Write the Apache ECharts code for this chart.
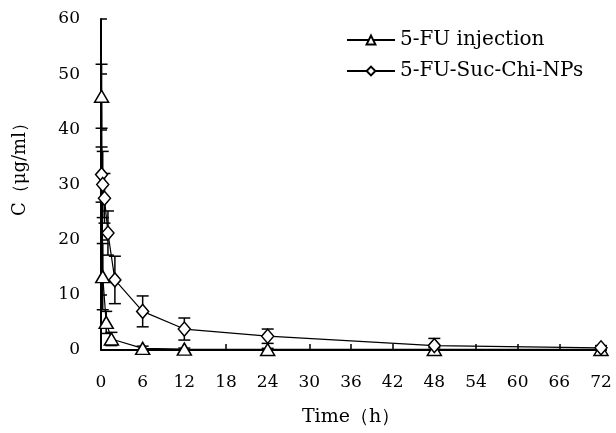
<!DOCTYPE html>
<html>
<head>
<meta charset="utf-8">
<script src="https://cdn.jsdelivr.net/npm/echarts@6/dist/echarts.min.js"></script>
<style>
  html, body { margin: 0; padding: 0; background: #fff; }
  #chart { width: 616px; height: 433px; }
</style>
</head>
<body>
<div id="chart"></div>
<script>
// time points (h) and mean concentration / SD
const injTime = [0.083, 0.25, 0.75, 1.5, 6, 12, 24, 48, 72];
const injMean = [46, 13.3, 5.0, 2.0, 0.3, 0.15, 0.1, 0.1, 0.1];
const injSd = [5.8, 6, 2, 1.2, 0.4, 0.2, 0.2, 0.3, 0.2];

const npTime = [0.083, 0.25, 0.5, 1, 2, 6, 12, 24, 48, 72];
const npMean = [31.8, 30.0, 27.5, 21.2, 12.7, 7.0, 3.8, 2.5, 0.8, 0.4];
const npSd = [5, 6, 4.5, 4, 4.3, 2.8, 2.0, 1.3, 1.3, 0.4];

const xTicks = [0, 6, 12, 18, 24, 30, 36, 42, 48, 54, 60, 66, 72];
const yTicks = [0, 10, 20, 30, 40, 50, 60];

const font = "DejaVu Serif";
const chart = echarts.init(document.getElementById("chart"));

function pairs(t, v) {
  return t.map((x, i) => [x, v[i]]);
}

function errRows(t, v, e) {
  return t.map((x, i) => [x, v[i], e[i]]);
}

function errorBars(params, api) {
  const x = api.value(0);
  const m = api.value(1);
  const e = api.value(2);
  const top = api.coord([x, m + e]);
  const bot = api.coord([x, Math.max(0, m - e)]);
  const w = 6;
  const st = { stroke: "#000", lineWidth: 1.5 };
  return {
    type: "group",
    children: [
      { type: "line", shape: { x1: top[0], y1: top[1], x2: bot[0], y2: bot[1] }, style: st },
      { type: "line", shape: { x1: top[0] - w, y1: top[1], x2: top[0] + w, y2: top[1] }, style: st },
      { type: "line", shape: { x1: bot[0] - w, y1: bot[1], x2: bot[0] + w, y2: bot[1] }, style: st },
    ],
  };
}

chart.setOption({
  animation: false,
  textStyle: { fontFamily: font, color: "#000" },
  grid: { left: 101, right: 15, top: 19, bottom: 83 },
  legend: {
    orient: "vertical",
    left: 341,
    top: 25,
    itemWidth: 48,
    itemHeight: 11,
    itemGap: 11,
    textStyle: { fontFamily: font, fontSize: 20, color: "#000" },
    data: ["5-FU injection", "5-FU-Suc-Chi-NPs"],
  },
  xAxis: {
    type: "value",
    min: 0,
    max: 72,
    interval: 6,
    name: "Time（h）",
    nameLocation: "middle",
    nameGap: 58,
    nameTextStyle: { fontFamily: font, fontSize: 19, color: "#000" },
    axisLine: { lineStyle: { color: "#000", width: 2 } },
    axisTick: { inside: true, length: 6, lineStyle: { color: "#000", width: 1.5 } },
    axisLabel: { margin: 24, fontSize: 17, color: "#000", fontFamily: font,
      formatter: (v) => (xTicks.includes(v) ? String(v) : "") },
    splitLine: { show: false },
  },
  yAxis: {
    type: "value",
    min: 0,
    max: 60,
    interval: 10,
    axisLine: { show: true, lineStyle: { color: "#000", width: 2 } },
    axisTick: { show: true, inside: true, length: 6, lineStyle: { color: "#000", width: 1.5 } },
    axisLabel: { margin: 21, fontSize: 17, color: "#000", fontFamily: font,
      formatter: (v) => (yTicks.includes(v) ? String(v) : "") },
    splitLine: { show: false },
  },
  graphic: [{
    type: "text",
    x: 20,
    y: 165,
    rotation: Math.PI / 2,
    style: { text: "C（μg/ml）", font: `18px "${font}"`, fill: "#000", align: "center", verticalAlign: "middle" },
  }],
  series: [
    {
      type: "custom",
      renderItem: errorBars,
      data: errRows(injTime, injMean, injSd),
      z: 1,
      silent: true,
    },
    {
      type: "custom",
      renderItem: errorBars,
      data: errRows(npTime, npMean, npSd),
      z: 1,
      silent: true,
    },
    {
      name: "5-FU injection",
      type: "line",
      data: pairs(injTime, injMean),
      symbol: "triangle",
      symbolSize: [14, 12],
      lineStyle: { color: "#000", width: 1.2 },
      itemStyle: { color: "#fff", borderColor: "#000", borderWidth: 1.5 },
      z: 3,
    },
    {
      name: "5-FU-Suc-Chi-NPs",
      type: "line",
      data: pairs(npTime, npMean),
      symbol: "diamond",
      symbolSize: [12, 14],
      lineStyle: { color: "#000", width: 1.2 },
      itemStyle: { color: "#fff", borderColor: "#000", borderWidth: 1.5 },
      z: 3,
    },
  ],
});
</script>
</body>
</html>
